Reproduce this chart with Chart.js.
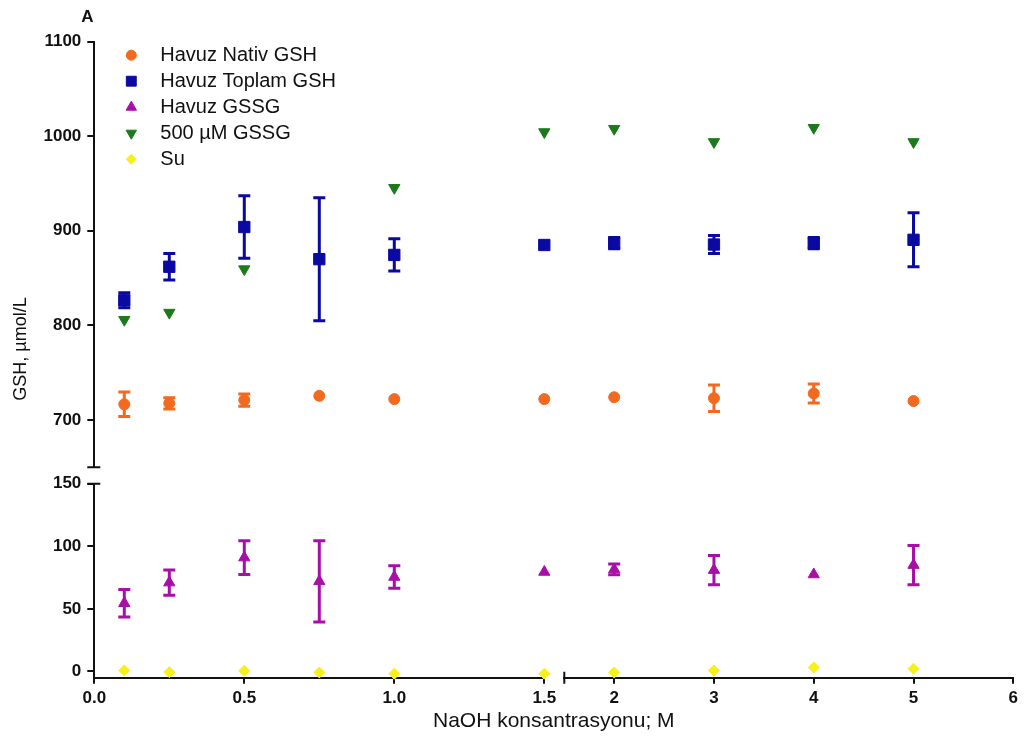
<!DOCTYPE html>
<html>
<head>
<meta charset="utf-8">
<script src="https://cdn.jsdelivr.net/npm/chart.js@4.4.1/dist/chart.umd.min.js"></script>
<style>
  html, body { margin: 0; padding: 0; background: #ffffff; }
  #wrap { width: 1024px; height: 740px; }
</style>
</head>
<body>
<div id="wrap"><canvas id="chart" width="1024" height="740"></canvas></div>
<script>
// NaOH concentrations (M); the first six sit on the left axis segment, the rest on the right one
const concentrations = [0.1, 0.25, 0.5, 0.75, 1.0, 1.5, 2, 3, 4, 5];
const leftCount = 6;

// GSH, µmol/L (upper panel)
const nativGSH      = [716.5, 717.5, 721, 725.5, 722, 722, 724, 723, 728, 720];
const nativGSHErr   = [13, 6, 6.5, 0, 0, 0, 0, 14, 10, 0];
const toplamGSH     = [826.5, 862, 904, 870, 874.5, 885, 887, 885.5, 887, 890.5];
const toplamGSHErr  = [8, 14, 33, 65, 17, 0, 6, 9.5, 6, 28.5];
const gssg500       = [806, 813.5, 859.5, null, 945.5, 1004.5, 1008, 994, 1009, 994];

// GSH, µmol/L (lower panel)
const havuzGSSG     = [54.5, 71, 91, 72, 75.5, 79.5, 81.5, 81, 77.5, 85];
const havuzGSSGErr  = [11, 10, 13.5, 32.5, 9, 0, 4.3, 11.7, 0, 15.7];
const su            = [0.8, -0.5, 0.6, -0.8, -1.8, -1.8, -0.8, 0.8, 3.2, 2.2];

// axis ticks and labels
const yTopTicks = [700, 800, 900, 1000, 1100];
const yTopTickLabels = ['700', '800', '900', '1000', '1100'];
const yBottomTicks = [0, 50, 100, 150];
const yBottomTickLabels = ['0', '50', '100', '150'];
const xLeftTicks = [0, 0.5, 1.0, 1.5];
const xLeftTickLabels = ['0.0', '0.5', '1.0', '1.5'];
const xRightTicks = [2, 3, 4, 5, 6];
const xRightTickLabels = ['2', '3', '4', '5', '6'];

// texts
const seriesNames = ['Havuz Nativ GSH', 'Havuz Toplam GSH', 'Havuz GSSG', '500 µM GSSG', 'Su'];
const xTitle = 'NaOH konsantrasyonu; M';
const yTitle = 'GSH, µmol/L';
const panelLetter = 'A';

const FONT = '"Liberation Sans", Arial, Helvetica, sans-serif';
const axisColor = '#111111';

const series = [
  { name: seriesNames[0], values: nativGSH,  errors: nativGSHErr,  yAxis: 'yTop',    color: '#F26A1F', style: 'circle',   rotation: 0,   radius: 5.5, legendRadius: 5 },
  { name: seriesNames[1], values: toplamGSH, errors: toplamGSHErr, yAxis: 'yTop',    color: '#0A0AA3', style: 'rect',     rotation: 0,   radius: 8,   legendRadius: 7 },
  { name: seriesNames[2], values: havuzGSSG, errors: havuzGSSGErr, yAxis: 'yBottom', color: '#A80FA8', style: 'triangle', rotation: 0,   radius: 6.5, legendRadius: 6 },
  { name: seriesNames[3], values: gssg500,   errors: null,         yAxis: 'yTop',    color: '#1B7A1B', style: 'triangle', rotation: 180, radius: 6.5, legendRadius: 6 },
  { name: seriesNames[4], values: su,        errors: null,         yAxis: 'yBottom', color: '#F7F01A', style: 'rectRot',  rotation: 0,   radius: 5.5, legendRadius: 5 }
];

// each series is split into a left-segment and a right-segment dataset
const datasets = [];
series.forEach(s => {
  const pts = s.values.map((v, i) => ({ x: concentrations[i], y: v }));
  const errs = s.errors || s.values.map(() => 0);
  [['xLeft', 0, leftCount], ['xRight', leftCount, concentrations.length]].forEach(([xId, a, b]) => {
    datasets.push({
      label: s.name,
      data: pts.slice(a, b),
      errors: errs.slice(a, b),
      xAxisID: xId,
      yAxisID: s.yAxis,
      backgroundColor: s.color,
      borderColor: s.color,
      borderWidth: 1,
      pointStyle: s.style,
      rotation: s.rotation,
      pointRadius: s.radius,
      clip: false
    });
  });
});

// vertical error bars with caps, positioned through the dataset's own scales
const errorBars = {
  id: 'errorBars',
  beforeDatasetsDraw(chart) {
    const ctx = chart.ctx;
    chart.data.datasets.forEach(ds => {
      const xs = chart.scales[ds.xAxisID];
      const ys = chart.scales[ds.yAxisID];
      ctx.save();
      ctx.strokeStyle = ds.borderColor;
      ctx.lineWidth = 3;
      ds.data.forEach((p, i) => {
        const e = ds.errors[i];
        if (p.y == null || !e) return;
        const px = xs.getPixelForValue(p.x);
        const top = ys.getPixelForValue(p.y + e);
        const bot = ys.getPixelForValue(p.y - e);
        ctx.beginPath();
        ctx.moveTo(px, top); ctx.lineTo(px, bot);
        ctx.moveTo(px - 6, top); ctx.lineTo(px + 6, top);
        ctx.moveTo(px - 6, bot); ctx.lineTo(px + 6, bot);
        ctx.stroke();
      });
      ctx.restore();
    });
  }
};

function drawMarker(ctx, style, rotation, r, x, y, color) {
  ctx.save();
  ctx.fillStyle = color;
  ctx.strokeStyle = color;
  ctx.lineWidth = 1;
  ctx.beginPath();
  let rad = rotation * Math.PI / 180;
  if (style === 'circle') {
    ctx.arc(x, y, r, 0, Math.PI * 2);
  } else if (style === 'rect') {
    const s = Math.SQRT1_2 * r;
    ctx.rect(x - s, y - s, 2 * s, 2 * s);
  } else if (style === 'triangle') {
    for (let k = 0; k < 3; k++) {
      const px = x + Math.sin(rad) * r, py = y - Math.cos(rad) * r;
      if (k === 0) ctx.moveTo(px, py); else ctx.lineTo(px, py);
      rad += 2 * Math.PI / 3;
    }
    ctx.closePath();
  } else if (style === 'rectRot') {
    ctx.moveTo(x - r, y); ctx.lineTo(x, y - r); ctx.lineTo(x + r, y); ctx.lineTo(x, y + r);
    ctx.closePath();
  }
  ctx.fill();
  ctx.stroke();
  ctx.restore();
}

// legend, titles, panel letter and axis break marks
const decorations = {
  id: 'decorations',
  afterDraw(chart) {
    const ctx = chart.ctx;
    const area = chart.chartArea;
    const { yTop, yBottom, xRight } = chart.scales;

    ctx.save();
    ctx.strokeStyle = axisColor;
    ctx.lineWidth = 2;
    ctx.beginPath();
    // end of the upper y segment
    ctx.moveTo(yTop.right - 7, yTop.bottom); ctx.lineTo(yTop.right + 6, yTop.bottom);
    // start of the lower y segment
    ctx.moveTo(yBottom.right - 7, yBottom.top); ctx.lineTo(yBottom.right + 6, yBottom.top);
    // start of the right x segment
    ctx.moveTo(xRight.left, xRight.top - 6); ctx.lineTo(xRight.left, xRight.top + 6);
    ctx.stroke();

    ctx.fillStyle = axisColor;
    ctx.textAlign = 'center';
    ctx.textBaseline = 'middle';
    ctx.font = 'bold 17px ' + FONT;
    ctx.fillText(panelLetter, 87.5, 17.5);

    ctx.font = '21px ' + FONT;
    ctx.fillText(xTitle, (area.left + area.right) / 2, 721);

    ctx.save();
    ctx.translate(21, 349);
    ctx.rotate(-Math.PI / 2);
    ctx.font = '18px ' + FONT;
    ctx.fillText(yTitle, 0, 0);
    ctx.restore();

    // legend
    ctx.textAlign = 'left';
    ctx.font = '20px ' + FONT;
    series.forEach((s, i) => {
      const cy = area.top + 13.5 + i * 26;
      drawMarker(ctx, s.style, s.rotation, s.legendRadius, area.left + 37, cy, s.color);
      ctx.fillStyle = axisColor;
      ctx.fillText(s.name, area.left + 66, cy);
    });
    ctx.restore();
  }
};

const tickFont = { family: FONT, size: 17, weight: 'bold' };

function valueScale(min, max, ticks, labels, stackWeight, weight) {
  return {
    type: 'linear', position: 'left', stack: 'yStack', stackWeight, weight,
    min, max,
    afterBuildTicks: s => { s.ticks = ticks.map(v => ({ value: v })); },
    afterFit: s => { s.width = 94.3; s.paddingTop = 0; s.paddingBottom = 0; },
    grid: { display: true, drawOnChartArea: false, drawTicks: true, tickLength: 7, lineWidth: 2, color: axisColor },
    border: { display: true, width: 2, color: axisColor },
    ticks: { autoSkip: false, padding: 6, color: axisColor, font: tickFont, callback: (v, i) => labels[i] }
  };
}

function concScale(min, max, ticks, labels, stackWeight, weight) {
  return {
    type: 'linear', position: 'bottom', stack: 'xStack', stackWeight, weight,
    min, max,
    afterBuildTicks: s => { s.ticks = ticks.map(v => ({ value: v })); },
    afterFit: s => { s.height = 62.3; s.paddingLeft = 0; s.paddingRight = 0; },
    grid: { display: true, drawOnChartArea: false, drawTicks: true, tickLength: 6, lineWidth: 2, color: axisColor },
    border: { display: true, width: 2, color: axisColor },
    ticks: { autoSkip: false, maxRotation: 0, minRotation: 0, padding: 4, color: axisColor, font: tickFont, callback: (v, i) => labels[i] }
  };
}

function gapScale(position, stack, stackWeight, weight) {
  return {
    type: 'linear', position, stack, stackWeight, weight, min: 0, max: 1,
    grid: { display: false }, border: { display: false }, ticks: { display: false },
    afterFit: s => {
      if (position === 'left') s.width = 94.3; else s.height = 62.3;
    }
  };
}

new Chart(document.getElementById('chart'), {
  type: 'scatter',
  data: { datasets },
  options: {
    responsive: false,
    animation: false,
    events: [],
    layout: { padding: { left: 0, top: 41.7, right: 10.7, bottom: 0 } },
    plugins: { legend: { display: false }, tooltip: { enabled: false } },
    scales: {
      yTop: valueScale(650, 1100, yTopTicks, yTopTickLabels, 425.7, 3),
      yGap: gapScale('left', 'yStack', 16.6, 2),
      yBottom: valueScale(-5, 150, yBottomTicks, yBottomTickLabels, 194, 1),
      xLeft: concScale(0, 1.5, xLeftTicks, xLeftTickLabels, 450, 1),
      xGap: gapScale('bottom', 'xStack', 20, 2),
      xRight: concScale(1.5, 6, xRightTicks, xRightTickLabels, 449, 3)
    }
  },
  plugins: [errorBars, decorations]
});
</script>
</body>
</html>
